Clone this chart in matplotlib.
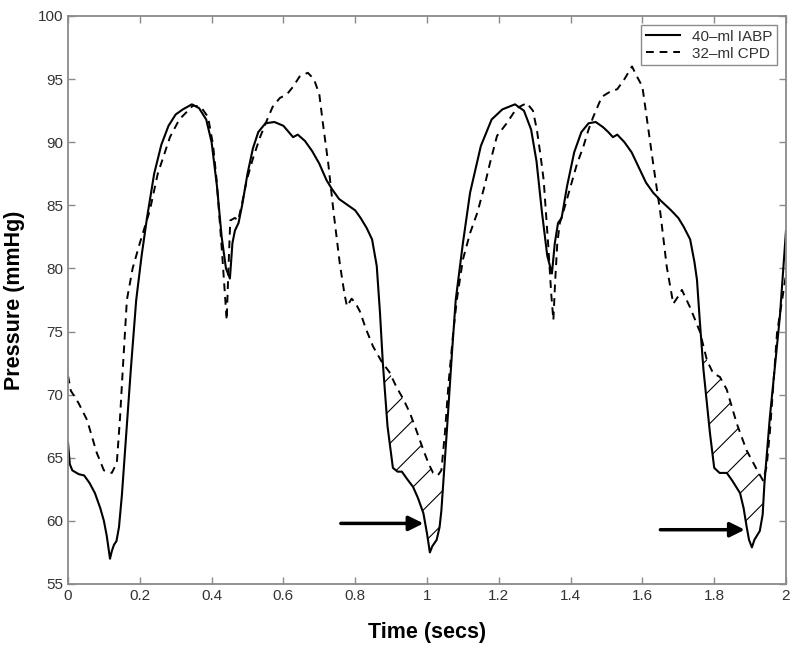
import numpy as np
import matplotlib
matplotlib.use("Agg")
import matplotlib.pyplot as plt

# 40-ml IABP (solid)
t_iabp = [0.000, 0.005, 0.012, 0.030, 0.045, 0.060, 0.075, 0.090, 0.100, 0.108,
          0.117, 0.122, 0.128, 0.135, 0.142, 0.150, 0.160, 0.175, 0.190, 0.205,
          0.220, 0.240, 0.260, 0.280, 0.300, 0.320, 0.345, 0.365, 0.385, 0.400,
          0.415, 0.428, 0.440, 0.451, 0.458, 0.465, 0.475, 0.485, 0.500, 0.515,
          0.530, 0.550, 0.575, 0.600, 0.615, 0.627, 0.640, 0.660, 0.680, 0.700,
          0.720, 0.735, 0.755, 0.780, 0.800, 0.815, 0.832, 0.847, 0.860, 0.869,
          0.877, 0.890, 0.905, 0.918, 0.930, 0.945, 0.961, 0.975, 0.990, 1.000,
          1.008, 1.015, 1.027, 1.035, 1.040, 1.055, 1.070, 1.080, 1.100, 1.120,
          1.150, 1.180, 1.210, 1.245, 1.270, 1.290, 1.305, 1.320, 1.335, 1.348,
          1.356, 1.365, 1.375, 1.390, 1.410, 1.430, 1.450, 1.470, 1.490, 1.505,
          1.518, 1.530, 1.550, 1.570, 1.590, 1.610, 1.630, 1.650, 1.680, 1.700,
          1.715, 1.733, 1.745, 1.752, 1.760, 1.770, 1.788, 1.800, 1.815, 1.835,
          1.850, 1.872, 1.882, 1.890, 1.897, 1.905, 1.912, 1.927, 1.935, 1.940,
          1.955, 1.970, 1.983, 2.000]
p_iabp = [66.2, 64.5, 64.0, 63.7, 63.6, 63.0, 62.2, 61.0, 60.0, 58.8,
          57.0, 57.6, 58.1, 58.4, 59.5, 62.0, 66.0, 72.0, 77.5, 81.0,
          84.0, 87.5, 89.8, 91.3, 92.2, 92.6, 93.0, 92.7, 91.8, 90.0,
          86.5, 82.5, 80.0, 79.2, 82.0, 83.0, 83.6, 85.0, 87.5, 89.5,
          90.8, 91.5, 91.6, 91.3, 90.8, 90.4, 90.6, 90.1, 89.3, 88.3,
          87.0, 86.3, 85.5, 85.0, 84.6, 84.0, 83.2, 82.3, 80.2, 76.5,
          72.5, 67.5, 64.2, 63.9, 63.9, 63.3, 62.7, 61.8, 60.6, 59.0,
          57.5, 58.0, 58.5, 59.5, 60.8, 67.0, 73.5, 77.5, 82.0, 86.0,
          89.7, 91.8, 92.6, 93.0, 92.5, 91.0, 88.5, 84.5, 81.0, 79.6,
          82.0, 83.6, 84.0, 86.5, 89.2, 90.8, 91.5, 91.6, 91.2, 90.8,
          90.4, 90.6, 90.0, 89.2, 88.0, 86.8, 86.0, 85.4, 84.6, 84.0,
          83.3, 82.3, 80.5, 79.1, 75.8, 72.0, 67.0, 64.2, 63.8, 63.8,
          63.2, 62.2, 61.0, 59.6, 58.5, 57.9, 58.5, 59.2, 60.5, 63.0,
          68.2, 72.5, 76.2, 83.0]

# 32-ml CPD (dashed)
t_cpd = [0.000, 0.008, 0.015, 0.030, 0.053, 0.080, 0.100, 0.122, 0.136, 0.145,
         0.153, 0.164, 0.180, 0.200, 0.228, 0.250, 0.284, 0.310, 0.348, 0.370,
         0.390, 0.404, 0.414, 0.428, 0.437, 0.442, 0.447, 0.452, 0.465, 0.474,
         0.486, 0.498, 0.515, 0.535, 0.555, 0.570, 0.590, 0.610, 0.627, 0.645,
         0.668, 0.685, 0.700, 0.710, 0.725, 0.740, 0.757, 0.770, 0.777, 0.790,
         0.800, 0.813, 0.830, 0.850, 0.874, 0.895, 0.915, 0.935, 0.953, 0.970,
         0.990, 1.005, 1.017, 1.030, 1.040, 1.050, 1.060, 1.073, 1.083, 1.100,
         1.120, 1.140, 1.160, 1.175, 1.195, 1.222, 1.250, 1.278, 1.295, 1.306,
         1.316, 1.325, 1.338, 1.346, 1.352, 1.357, 1.363, 1.370, 1.385, 1.400,
         1.418, 1.435, 1.450, 1.463, 1.487, 1.510, 1.530, 1.550, 1.571, 1.585,
         1.600, 1.630, 1.650, 1.668, 1.686, 1.700, 1.710, 1.733, 1.760, 1.780,
         1.797, 1.816, 1.835, 1.863, 1.890, 1.920, 1.936, 1.946, 1.955, 1.965,
         1.975, 2.000]
p_cpd = [71.5, 70.3, 70.0, 69.3, 68.0, 65.4, 64.0, 63.8, 64.6, 68.2,
         72.2, 77.5, 80.0, 82.0, 84.6, 87.5, 90.4, 91.8, 92.9, 92.8,
         92.0, 89.8, 87.0, 81.7, 78.0, 75.9, 80.0, 83.8, 84.0, 83.8,
         85.3, 87.0, 88.7, 90.4, 91.8, 92.8, 93.5, 93.8, 94.4, 95.2,
         95.5, 95.0, 93.8, 91.5, 88.3, 84.4, 80.4, 78.0, 77.0, 77.6,
         77.3, 76.6, 75.2, 73.8, 72.6, 71.8, 70.6, 69.6, 68.5, 67.2,
         65.6, 64.5, 63.8, 63.6, 64.0, 67.0, 70.9, 74.9, 77.5, 80.7,
         82.8, 84.4, 86.5, 88.3, 90.5, 91.5, 92.7, 93.1, 92.5, 91.0,
         89.0, 87.0, 81.7, 78.0, 75.9, 79.0, 82.0, 83.6, 85.0, 86.5,
         88.3, 89.6, 91.0, 92.0, 93.6, 94.0, 94.2, 95.0, 96.0, 95.2,
         94.4, 88.3, 84.4, 80.1, 77.2, 77.8, 78.3, 76.9, 75.0, 72.7,
         71.7, 71.4, 70.4, 67.7, 65.6, 64.0, 63.2, 64.3, 67.0, 70.9,
         74.9, 79.5]

# hatched windows (diastolic augmentation difference)
hatch_windows = [(0.877, 1.045), (1.770, 1.945)]

# arrows: (tail_t, tip_t, pressure)
arrows = [(0.76, 0.99, 59.8), (1.65, 1.885, 59.3)]

plt.rcParams["font.family"] = ["Liberation Sans Narrow", "Liberation Sans", "DejaVu Sans"]
plt.rcParams["hatch.linewidth"] = 0.8

fig = plt.figure(figsize=(8.0, 6.52), dpi=100)
ax = fig.add_axes([0.085, 0.1043, 0.8975, 0.8712])

ax.plot(t_iabp, p_iabp, color="black", lw=1.5, label="40\u2013ml IABP")
ax.plot(t_cpd, p_cpd, color="black", lw=1.4, linestyle=(0, (4, 3)),
        label="32\u2013ml CPD")

for t0, t1 in hatch_windows:
    tt = np.linspace(t0, t1, 200)
    lo = np.interp(tt, t_iabp, p_iabp)
    hi = np.interp(tt, t_cpd, p_cpd)
    ax.fill_between(tt, lo, hi, where=hi > lo, facecolor="none",
                    edgecolor="black", hatch="/", linewidth=0, interpolate=True)

for tail, tip, p in arrows:
    ax.annotate("", xy=(tip, p), xytext=(tail, p),
                arrowprops=dict(arrowstyle="-|>", lw=2.5, color="black",
                                mutation_scale=22, shrinkA=0, shrinkB=0))

ax.set_xlim(0, 2)
ax.set_ylim(55, 100)
ax.set_xticks(np.arange(0, 2.01, 0.2))
ax.set_xticklabels(["0", "0.2", "0.4", "0.6", "0.8", "1", "1.2", "1.4", "1.6", "1.8", "2"])
ax.set_yticks(np.arange(55, 101, 5))

grey = "#8a8a8a"
for s in ax.spines.values():
    s.set_color(grey)
    s.set_linewidth(1.3)
ax.tick_params(direction="in", length=5, width=1.0, color=grey,
               labelcolor="#333333", labelsize=11, top=True, right=True)

ax.set_xlabel("Time (secs)", fontsize=15.5, fontweight="bold", labelpad=14)
ax.set_ylabel("Pressure (mmHg)", fontsize=15.5, fontweight="bold",
              family=["Liberation Sans", "DejaVu Sans"], labelpad=9)

leg = ax.legend(loc="upper right", fontsize=11, fancybox=False, framealpha=1,
                edgecolor=grey, handlelength=2.2, borderpad=0.3,
                labelspacing=0.2, borderaxespad=0.6)
leg.get_frame().set_linewidth(1.0)
for txt in leg.get_texts():
    txt.set_color("#333333")

fig.savefig("out.png", dpi=100)
